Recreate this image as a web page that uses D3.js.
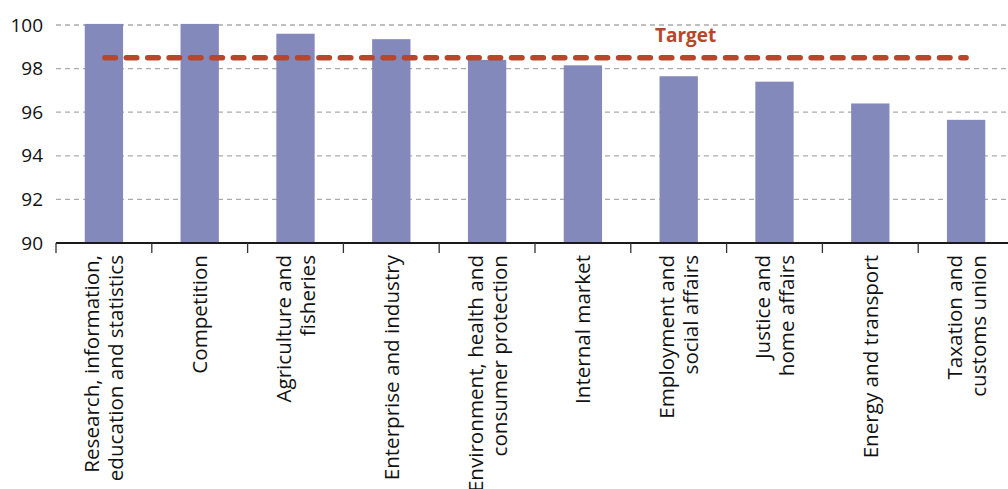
<!DOCTYPE html>
<html>
<head>
<meta charset="utf-8">
<script src="https://cdn.jsdelivr.net/npm/d3@7/dist/d3.min.js"></script>
<style>
  html, body { margin: 0; padding: 0; background: #fff; }
  svg { display: block; }
  text { font-family: "Open Sans", "Noto Sans", sans-serif; }
</style>
</head>
<body>
<svg id="chart" width="1008" height="489"></svg>
<script>
const categories = [
  "Research, information,\neducation and statistics",
  "Competition",
  "Agriculture and\nfisheries",
  "Enterprise and industry",
  "Environment, health and\nconsumer protection",
  "Internal market",
  "Employment and\nsocial affairs",
  "Justice and\nhome affairs",
  "Energy and transport",
  "Taxation and\ncustoms union"
];
const values = [100.05, 100.05, 99.6, 99.35, 98.4, 98.15, 97.65, 97.4, 96.4, 95.65];
const targetValue = 98.5;
const targetLabel = "Target";
const yTicks = [90, 92, 94, 96, 98, 100];
const yDomain = [90, 100];

const svg = d3.select("#chart");

const x = d3.scaleBand().domain(categories).range([56, 1014]).padding(0);
const y = d3.scaleLinear().domain(yDomain).range([243, 25]);
const barW = x.bandwidth() * 0.4;

// gridlines
svg.append("g").selectAll("line")
  .data(yTicks.filter(t => t !== yDomain[0]))
  .join("line")
  .attr("x1", 56).attr("x2", 1008)
  .attr("y1", d => y(d)).attr("y2", d => y(d))
  .attr("stroke", "#ababab").attr("stroke-width", 1.3)
  .attr("stroke-dasharray", "5,4");

// y axis labels
const yAxis = d3.axisLeft(y).tickValues(yTicks).tickSize(0).tickPadding(13).tickFormat(d3.format("d"));
const gy = svg.append("g").attr("transform", "translate(56,0)").call(yAxis);
gy.select(".domain").remove();
gy.selectAll("text").attr("font-size", 19).attr("fill", "#111")
  .style("font-family", "'Open Sans', sans-serif");

// bars
svg.append("g").selectAll("rect")
  .data(categories.map((c, i) => ({ c, v: values[i] })))
  .join("rect")
  .attr("x", d => x(d.c) + x.bandwidth() / 2 - barW / 2)
  .attr("width", barW)
  .attr("y", d => y(d.v))
  .attr("height", d => y(yDomain[0]) - y(d.v))
  .attr("fill", "#8389bb");

// x axis line and ticks
const gx = svg.append("g");
gx.append("line")
  .attr("x1", x.range()[0]).attr("x2", x.range()[1])
  .attr("y1", y(yDomain[0])).attr("y2", y(yDomain[0]))
  .attr("stroke", "#1a1a1a").attr("stroke-width", 2.2);
gx.selectAll("line.tick")
  .data(categories.map(c => x(c)).concat([x.range()[1]]))
  .join("line").attr("class", "tick")
  .attr("x1", d => d).attr("x2", d => d)
  .attr("y1", y(yDomain[0])).attr("y2", y(yDomain[0]) + 10)
  .attr("stroke", "#333").attr("stroke-width", 1.3);

// x labels
const lineH = 24;
const lab = svg.append("g").selectAll("text")
  .data(categories)
  .join("text")
  .attr("transform", d => `translate(${x(d) + x.bandwidth() / 2},255) rotate(-90)`)
  .attr("text-anchor", "end")
  .attr("font-size", 20.6)
  .attr("fill", "#111");
lab.each(function (d) {
  const lines = d.split("\n");
  const n = lines.length;
  d3.select(this).selectAll("tspan").data(lines).join("tspan")
    .attr("x", 0)
    .attr("y", (l, i) => (i - (n - 1) / 2) * lineH)
    .attr("dy", "0.36em")
    .text(l => l);
});

// target line
const x0 = x(categories[0]) + x.bandwidth() / 2;
const x1 = x(categories[categories.length - 1]) + x.bandwidth() / 2;
svg.append("line")
  .attr("x1", x0 + 1).attr("x2", x1)
  .attr("y1", y(targetValue)).attr("y2", y(targetValue))
  .attr("stroke", "#b8462a").attr("stroke-width", 5.5)
  .attr("stroke-linecap", "round")
  .attr("stroke-dasharray", "10.5,10.9");

svg.append("text")
  .attr("x", 655).attr("y", 42)
  .attr("font-size", 19).attr("font-weight", "bold")
  .attr("fill", "#b8462a")
  .text(targetLabel);
</script>
</body>
</html>
